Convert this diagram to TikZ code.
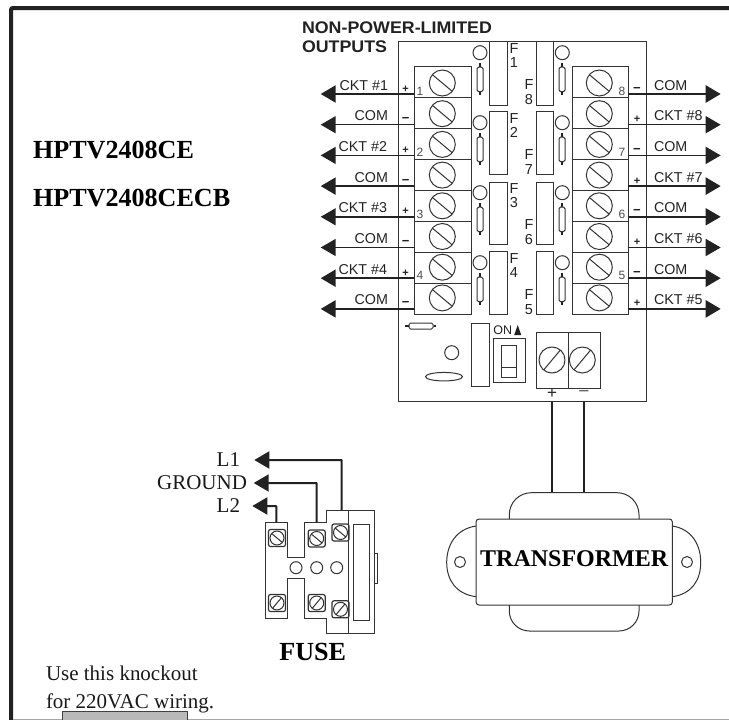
\documentclass[tikz,border=0pt]{standalone}
\usepackage{fontspec}
\usepackage{graphicx}
\setmainfont{Liberation Serif}
\newfontfamily\arialf{Liberation Sans}
\usetikzlibrary{arrows.meta,shapes.geometric}
\newcommand{\fs}[1]{\fontsize{#1}{#1}\selectfont}
\newcommand{\mns}{{\fs{13}\textminus}}
\definecolor{ink}{HTML}{222222}
\definecolor{boxline}{HTML}{333333}
\definecolor{knock}{HTML}{B9B9B9}
\tikzset{
  lbl/.style={inner sep=0pt,outer sep=0pt,text=ink},
  ckt/.style={lbl,font=\arialf\fs{14.3}},
  sgn/.style={lbl,font=\arialf\bfseries\fs{11}},
  num/.style={lbl,font=\arialf\fs{12},text=black!70},
  flabel/.style={lbl,font=\arialf\fs{14.5},align=center},
  serifb/.style={lbl,font=\bfseries\fs{26.1},text=black},
  serif/.style={lbl,font=\fs{21},text=black!90},
  part/.style={draw=boxline,line width=1pt},
  screw/.style={part,circle,inner sep=0pt,outer sep=0pt,minimum size=26pt},
  hole/.style={part,circle,inner sep=0pt,outer sep=0pt,minimum size=14pt},
  fscrew/.style={part,circle,inner sep=0pt,outer sep=0pt,minimum size=14pt},
  fhole/.style={part,circle,inner sep=0pt,outer sep=0pt,minimum size=12pt},
  fsq/.style={part,rounded corners=2pt,inner sep=0pt,outer sep=0pt,minimum size=17pt,line width=1.2pt},
  wire/.style={draw=ink,-{Triangle[length=15pt,width=17pt]}},
  lwire/.style={draw=ink,line width=2pt,-{Triangle[length=15pt,width=17pt]},rounded corners=0.5pt},
}
\begin{document}
\begin{tikzpicture}[x=1pt,y=-1pt]
\useasboundingbox (0,0) rectangle (729,720);
% page frame
\coordinate (fA) at (729,8);
\coordinate (fB) at (11,8);
\coordinate (fC) at (11,720);
\coordinate (fD) at (729,719.4);
\coordinate (fE) at (13,719.4);
\draw[ink,line width=4pt,rounded corners=2pt] (fA) -- (fB) -- (fC);
\draw[black!35,line width=1.2pt] (fE) -- (fD);
\node[draw=black!75,fill=knock,line width=0.9pt,inner sep=0pt,minimum width=125.6pt,minimum height=12pt,anchor=north west] (knockout) at (61.7,711) {};
\draw[black!35,line width=1.2pt] (fE) -- (knockout.south west |- fE);

% board
\node[part,anchor=north west,minimum width=248.2pt,minimum height=360pt,inner sep=0pt] (board) at (397.5,41) {};

% title
\node[lbl,anchor=base west,font=\arialf\bfseries\fs{16.8}] (title1) at (302,33) {\scalebox{1.06}[1]{NON-POWER-LIMITED}};
\node[lbl,anchor=base west,font=\arialf\bfseries\fs{16.8}] (title2) at (302,52.7) {\scalebox{1.06}[1]{OUTPUTS}};

% terminal blocks
\node[part,anchor=north west,minimum width=56.7pt,minimum height=248.3pt,inner sep=0pt] (blockL) at (414,66) {};
\node[part,anchor=north west,minimum width=56pt,minimum height=248.3pt,inner sep=0pt] (blockR) at (571.7,66) {};

\foreach \i in {1,...,8}{
  \pgfmathsetmacro{\sy}{83+30.7*(\i-1)}
  \node[screw] (sL\i) at (442.3,\sy) {};
  \node[screw] (sR\i) at (599.3,\sy) {};
  \draw[part] (sL\i.140) -- (sL\i.-40);
  \draw[part] (sR\i.140) -- (sR\i.-40);
}
\foreach \i in {1,...,7}{
  \pgfmathsetmacro{\dy}{66+31.03*\i}
  \coordinate (dLa\i) at (414,\dy);
  \coordinate (dLb\i) at (470.7,\dy);
  \coordinate (dRa\i) at (571.7,\dy);
  \coordinate (dRb\i) at (627.7,\dy);
  \draw[part] (dLa\i) -- (dLb\i);
  \draw[part] (dRa\i) -- (dRb\i);
}

% wires
\foreach \i/\w in {1/2.5,2/1.5,3/1.6,4/2.4,5/1.5,6/1.5,7/2.4,8/2.4}{
  \pgfmathsetmacro{\wy}{94+30.7*(\i-1)}
  \coordinate (wL\i) at (414,\wy);
  \coordinate (aL\i) at (320.7,\wy);
  \draw[wire,line width=\w pt] (wL\i) -- (aL\i);
}
\foreach \i/\w in {1/2.5,2/1.5,3/1.5,4/2.4,5/1.5,6/1.5,7/2.4,8/2.4}{
  \pgfmathsetmacro{\wy}{94+30.7*(\i-1)}
  \coordinate (wR\i) at (627.7,\wy);
  \coordinate (aR\i) at (720.7,\wy);
  \draw[wire,line width=\w pt] (wR\i) -- (aR\i);
}

% wire labels
\foreach \i/\t/\xr in {1/CKT \#1/388,2/COM/388,3/CKT \#2/387,4/COM/388,5/CKT \#3/387,6/COM/388,7/CKT \#4/387,8/COM/388}{
  \pgfmathsetmacro{\ly}{90+30.7*(\i-1)}
  \node[ckt,anchor=base east] (tL\i) at (\xr,\ly) {\t};
}
\foreach \i/\t in {1/COM,2/CKT \#8,3/COM,4/CKT \#7,5/COM,6/CKT \#6,7/COM,8/CKT \#5}{
  \pgfmathsetmacro{\ly}{90+30.7*(\i-1)}
  \node[ckt,anchor=base west] (tR\i) at (654,\ly) {\t};
}
% polarity marks
\foreach \i/\s in {1/+,2/\mns,3/+,4/\mns,5/+,6/\mns,7/+,8/\mns}{
  \pgfmathsetmacro{\ly}{92+30.7*(\i-1)}
  \node[sgn,anchor=base] (pL\i) at (405.7,\ly) {\s};
}
\foreach \i/\s in {1/\mns,2/+,3/\mns,4/+,5/\mns,6/+,7/\mns,8/+}{
  \pgfmathsetmacro{\ly}{92+30.7*(\i-1)}
  \node[sgn,anchor=base] (pR\i) at (637,\ly) {\s};
}
% block numbers
\foreach \i/\r in {1/1,2/3,3/5,4/7}{
  \pgfmathsetmacro{\ly}{95.5+30.7*(\r-1)}
  \node[num,anchor=base] (nL\i) at (420,\ly) {\i};
}
\foreach \i/\r in {8/1,7/3,6/5,5/7}{
  \pgfmathsetmacro{\ly}{95.5+30.7*(\r-1)}
  \node[num,anchor=base] (nR\i) at (622,\ly) {\i};
}

% fuse columns
\foreach \i/\top/\bot/\lf/\rf in {0/41/104.5/1/8,1/111/174/2/7,2/181.7/244/3/6,3/251/314.3/4/5}{
  \pgfmathsetmacro{\hh}{\bot-\top}
  \pgfmathsetmacro{\cy}{52.7+70*\i}
  \pgfmathsetmacro{\ra}{\cy+10.5}
  \pgfmathsetmacro{\rb}{\cy+14.5}
  \pgfmathsetmacro{\rc}{\cy+39}
  \pgfmathsetmacro{\rd}{\cy+42.5}
  \pgfmathsetmacro{\fl}{55.5+70*\i}
  \pgfmathsetmacro{\fr}{92+70*\i}
  \node[part,anchor=north west,minimum width=17.7pt,minimum height=\hh pt,inner sep=0pt] (fbL\lf) at (489,\top) {};
  \node[part,anchor=north west,minimum width=17.6pt,minimum height=\hh pt,inner sep=0pt] (fbR\rf) at (535.7,\top) {};
  \node[hole] (hL\lf) at (480,\cy) {};
  \node[hole] (hR\rf) at (562.3,\cy) {};
  \foreach \xx/\nm in {480/L\lf,562/R\rf}{
    \coordinate (ra\nm) at (\xx,\ra);
    \coordinate (rd\nm) at (\xx,\rd);
    \draw[ink,line width=1.3pt] (ra\nm) -- (rd\nm);
    \node[part,fill=white,rounded corners=1.5pt,minimum width=6pt,minimum height=24.5pt,inner sep=0pt] (rb\nm) at (\xx,{(\rb+\rc)/2}) {};
  }
  \node[flabel,anchor=center] (flL\lf) at (514,\fl) {\baselineskip=14.5pt F\\ \lf};
  \node[flabel,anchor=center] (flR\rf) at (529,\fr) {\baselineskip=14.5pt F\\ \rf};
}

% lower board
\node[part,fill=white,rounded corners=1.5pt,minimum width=24pt,minimum height=6pt,inner sep=0pt] (res) at (421,326) {};
\coordinate (resA) at (405,326);
\coordinate (resB) at (436,326);
\draw[ink,line width=1.3pt] (resA) -- (res.west);
\draw[ink,line width=1.3pt] (res.east) -- (resB);
\node[hole] (lowhole) at (451.7,352.7) {};
\node[part,ellipse,minimum width=37pt,minimum height=8.5pt,inner sep=0pt] (oval) at (444,376.7) {};
\node[part,anchor=north west,minimum width=18.3pt,minimum height=62.7pt,inner sep=0pt] (lowrect) at (470.7,323.3) {};
\node[part,anchor=north west,minimum width=31.7pt,minimum height=43.4pt,inner sep=0pt] (sw) at (493.3,338.3) {};
\node[part,anchor=north west,minimum width=15pt,minimum height=31.7pt,inner sep=0pt] (swin) at (501.3,345) {};
\coordinate (swa) at (501.3,367.3);
\coordinate (swb) at (516.3,367.3);
\draw[part] (swa) -- (swb);
\node[lbl,font=\arialf\fs{12.5},anchor=base] (onlabel) at (502.7,334) {ON};
\fill[ink] (514.2,335) -- (517.7,325) -- (521.2,335) -- cycle;
\node[part,anchor=north west,minimum width=32pt,minimum height=56.6pt,inner sep=0pt] (tbP) at (535.7,331.7) {};
\node[part,anchor=north west,minimum width=32pt,minimum height=56.6pt,inner sep=0pt] (tbM) at (567.7,331.7) {};
\node[screw] (sP) at (552,360) {};
\node[screw] (sM) at (582.3,360) {};
\draw[part] (sP.-130) -- (sP.50);
\draw[part] (sM.-130) -- (sM.50);
\node[lbl,font=\arialf\fs{17},anchor=center] (plus) at (552,394) {+};
\node[lbl,font=\arialf\fs{19},text=black!60,anchor=center] (minus) at (584,394) {\textminus};

% transformer
\coordinate (txP) at (552,492.7);
\coordinate (txM) at (584,492.7);
\coordinate (boP) at (552,401);
\coordinate (boM) at (584,401);
\draw[ink,line width=1.1pt] (boP) -- (txP);
\draw[ink,line width=1.1pt] (boM) -- (txM);
\node[part,rounded corners=3pt,minimum width=196.3pt,minimum height=86pt,inner sep=0pt] (tx) at (574.2,562) {};
\coordinate (humpA) at (509.3,519);
\coordinate (humpB) at (639,492.7);
\coordinate (humpC) at (639,519);
\coordinate (humpD) at (509.3,605);
\coordinate (humpE) at (639,631);
\coordinate (humpF) at (639,605);
\draw[part,rounded corners=22pt] (humpA) |- (humpB) -- (humpC);
\draw[part,rounded corners=20pt] (humpD) |- (humpE) -- (humpF);
\draw[part] (476,526) .. controls (456,529) and (446.7,545) .. (446.7,562.3) .. controls (446.7,580) and (456,594) .. (476,596.7);
\draw[part] (672.3,526) .. controls (692,529) and (700.7,545) .. (700.7,562.3) .. controls (700.7,580) and (692,594) .. (672.3,596.7);
\node[part,circle,minimum size=11pt,inner sep=0pt] (earL) at (460,562) {};
\node[part,circle,minimum size=11pt,inner sep=0pt] (earR) at (687,562) {};
\node[lbl,font=\bfseries\fs{24},text=black,anchor=base] (txt) at (574.2,566) {TRANSFORMER};

% model names
\node[serifb,anchor=base west] (model1) at (33,158.5) {HPTV2408CE};
\node[serifb,anchor=base west] (model2) at (33,206.5) {HPTV2408CECB};

% fuse block
\draw[part,line width=1.1pt] (265.3,522.3) -- (287.7,522.3) -- (287.7,557.3) -- (304.7,557.3) -- (304.7,522.3) -- (326.7,522.3) -- (326.7,510.3) -- (374.3,510.3) -- (374.3,633.3) -- (326.7,633.3) -- (326.7,618.3) -- (304.7,618.3) -- (304.7,578.3) -- (287.7,578.3) -- (287.7,618.3) -- (265.3,618.3) -- cycle;
\coordinate (fuseTop) at (348.3,510.3);
\coordinate (fuseBot) at (348.3,633.3);
\draw[part] (fuseTop) -- (fuseBot);
\node[part,anchor=north west,minimum width=16pt,minimum height=96.3pt,inner sep=0pt] (fuseIn) at (353.3,523.7) {};
\node[part,anchor=north west,minimum width=3pt,minimum height=30pt,inner sep=0pt] (fuseTab) at (374.3,552.7) {};
\foreach \n/\x/\y/\a in {a/277/538/140,b/316.7/538.5/140,c/340.5/532.5/140,d/277/603/50,e/316.7/603/50,f/340.5/609.3/50}{
  \node[fsq] (q\n) at (\x,\y) {};
  \node[fscrew,fill=white] (r\n) at (\x,\y) {};
  \draw[part] (r\n.\a) -- (r\n.\a+180);
}
\foreach \n/\x in {a/296,b/316.7,c/336.7}{
  \node[fhole] (fh\n) at (\x,567.7) {};
}
% fuse wires
\coordinate (ul1) at (341.7,510.3);
\coordinate (ug) at (316.7,522.3);
\coordinate (ul2) at (276.3,522.3);
\coordinate (al1) at (254.3,460);
\coordinate (ag) at (253.7,483);
\coordinate (al2) at (252.3,506);
\draw[lwire] (ul1) |- (al1);
\draw[lwire] (ug) |- (ag);
\draw[lwire] (ul2) |- (al2);
\node[serif,anchor=base east] (L1) at (240,466) {L1};
\node[serif,anchor=base east] (GND) at (247,489.5) {GROUND};
\node[serif,anchor=base east] (L2) at (240,512.5) {L2};
\node[serifb,anchor=base] (fuselabel) at (312.7,660.5) {FUSE};

\node[serif,anchor=base west] (use1) at (46,680) {Use this knockout};
\node[serif,anchor=base west] (use2) at (46,708) {for 220VAC wiring.};
\end{tikzpicture}
\end{document}
